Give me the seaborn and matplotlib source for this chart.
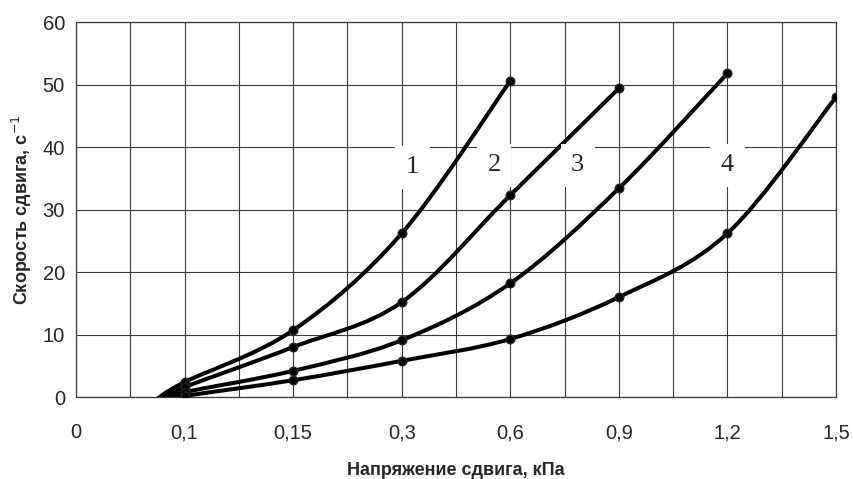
import matplotlib
matplotlib.use("Agg")
import matplotlib.pyplot as plt
import seaborn as sns
import pandas as pd
from matplotlib.path import Path
from matplotlib.patches import PathPatch

# категории по оси X (равномерная шкала, как в Excel)
x_labels = ["0", "0,1", "0,15", "0,3", "0,6", "0,9", "1,2", "1,5"]

# точка схождения кривых (без маркера) и измеренные точки
start_pos = 0.73
start_val = -0.5

pos_1 = [1, 2, 3, 4]
val_1 = [2.4, 10.7, 26.2, 50.6]

pos_2 = [1, 2, 3, 4, 5]
val_2 = [1.6, 8.0, 15.2, 32.3, 49.4]

pos_3 = [1, 2, 3, 4, 5, 6]
val_3 = [0.8, 4.2, 9.1, 18.2, 33.4, 51.8]

pos_4 = [1, 2, 3, 4, 5, 6, 7]
val_4 = [0.2, 2.7, 5.8, 9.3, 16.0, 26.2, 48.0]

curve_names = ["1", "2", "3", "4"]
label_pos = [(3.1, 36.8), (3.85, 37.1), (4.62, 37.1), (6.0, 37.1)]


def smooth_path(xs, ys):
    # сглаживание как в Excel: кубические Безье по соседним точкам
    pts = list(zip(xs, ys))
    verts = [pts[0]]
    codes = [Path.MOVETO]
    n = len(pts)
    for i in range(n - 1):
        p0 = pts[i - 1] if i > 0 else pts[i]
        p1 = pts[i]
        p2 = pts[i + 1]
        p3 = pts[i + 2] if i + 2 < n else pts[i + 1]
        c1 = (p1[0] + (p2[0] - p0[0]) / 6, p1[1] + (p2[1] - p0[1]) / 6)
        c2 = (p2[0] - (p3[0] - p1[0]) / 6, p2[1] - (p3[1] - p1[1]) / 6)
        verts += [c1, c2, p2]
        codes += [Path.CURVE4] * 3
    return Path(verts, codes)


sns.set_style("white")
plt.rcParams["font.family"] = ["Liberation Sans Narrow", "Liberation Sans", "DejaVu Sans"]

fig = plt.figure(figsize=(8.54, 4.79), dpi=100)
ax = fig.add_axes([0.089, 0.171, 0.890, 0.783])

series = [(pos_1, val_1), (pos_2, val_2), (pos_3, val_3), (pos_4, val_4)]
rows = []
for name, (p, v) in zip(curve_names, series):
    path = smooth_path([start_pos] + p, [start_val] + v)
    ax.add_patch(PathPatch(path, fill=False, lw=2.9, ec="black",
                           capstyle="round", joinstyle="round", zorder=3))
    for xi, yi in zip(p, v):
        rows.append({"pos": xi, "val": yi, "curve": name})
df = pd.DataFrame(rows)

sns.scatterplot(data=df, x="pos", y="val", color="black", s=38,
                edgecolor="#222222", linewidth=1.0, legend=False, ax=ax, zorder=4)

ax.set_xlim(0, 7)
ax.set_ylim(0, 60)
ax.set_xticks(range(len(x_labels)))
ax.set_xticklabels(x_labels)
ax.set_xticks([i + 0.5 for i in range(7)], minor=True)
ax.set_yticks(range(0, 61, 10))
ax.grid(True, which="both", color="#3a3a3a", lw=0.8)
ax.tick_params(axis="both", which="major", direction="out", length=5,
               width=0.8, color="#3a3a3a", labelsize=14.5, pad=3)
ax.tick_params(axis="x", which="major", pad=14)
ax.tick_params(axis="x", which="minor", length=0)
for sp in ax.spines.values():
    sp.set_color("#3a3a3a")
    sp.set_linewidth(0.9)

for name, (lx, ly) in zip(curve_names, label_pos):
    ax.text(lx, ly, name, ha="center", va="center", fontsize=19,
            family=["Liberation Serif", "DejaVu Serif"], zorder=5,
            bbox=dict(boxstyle="square,pad=0.4", fc="white", ec="none"))

ax.set_xlabel("Напряжение сдвига, кПа", fontsize=13, fontweight="bold", labelpad=14)
ax.set_ylabel("Скорость сдвига, с$^{-1}$", fontsize=13, fontweight="bold", labelpad=6)

fig.savefig("out.png", dpi=100)
